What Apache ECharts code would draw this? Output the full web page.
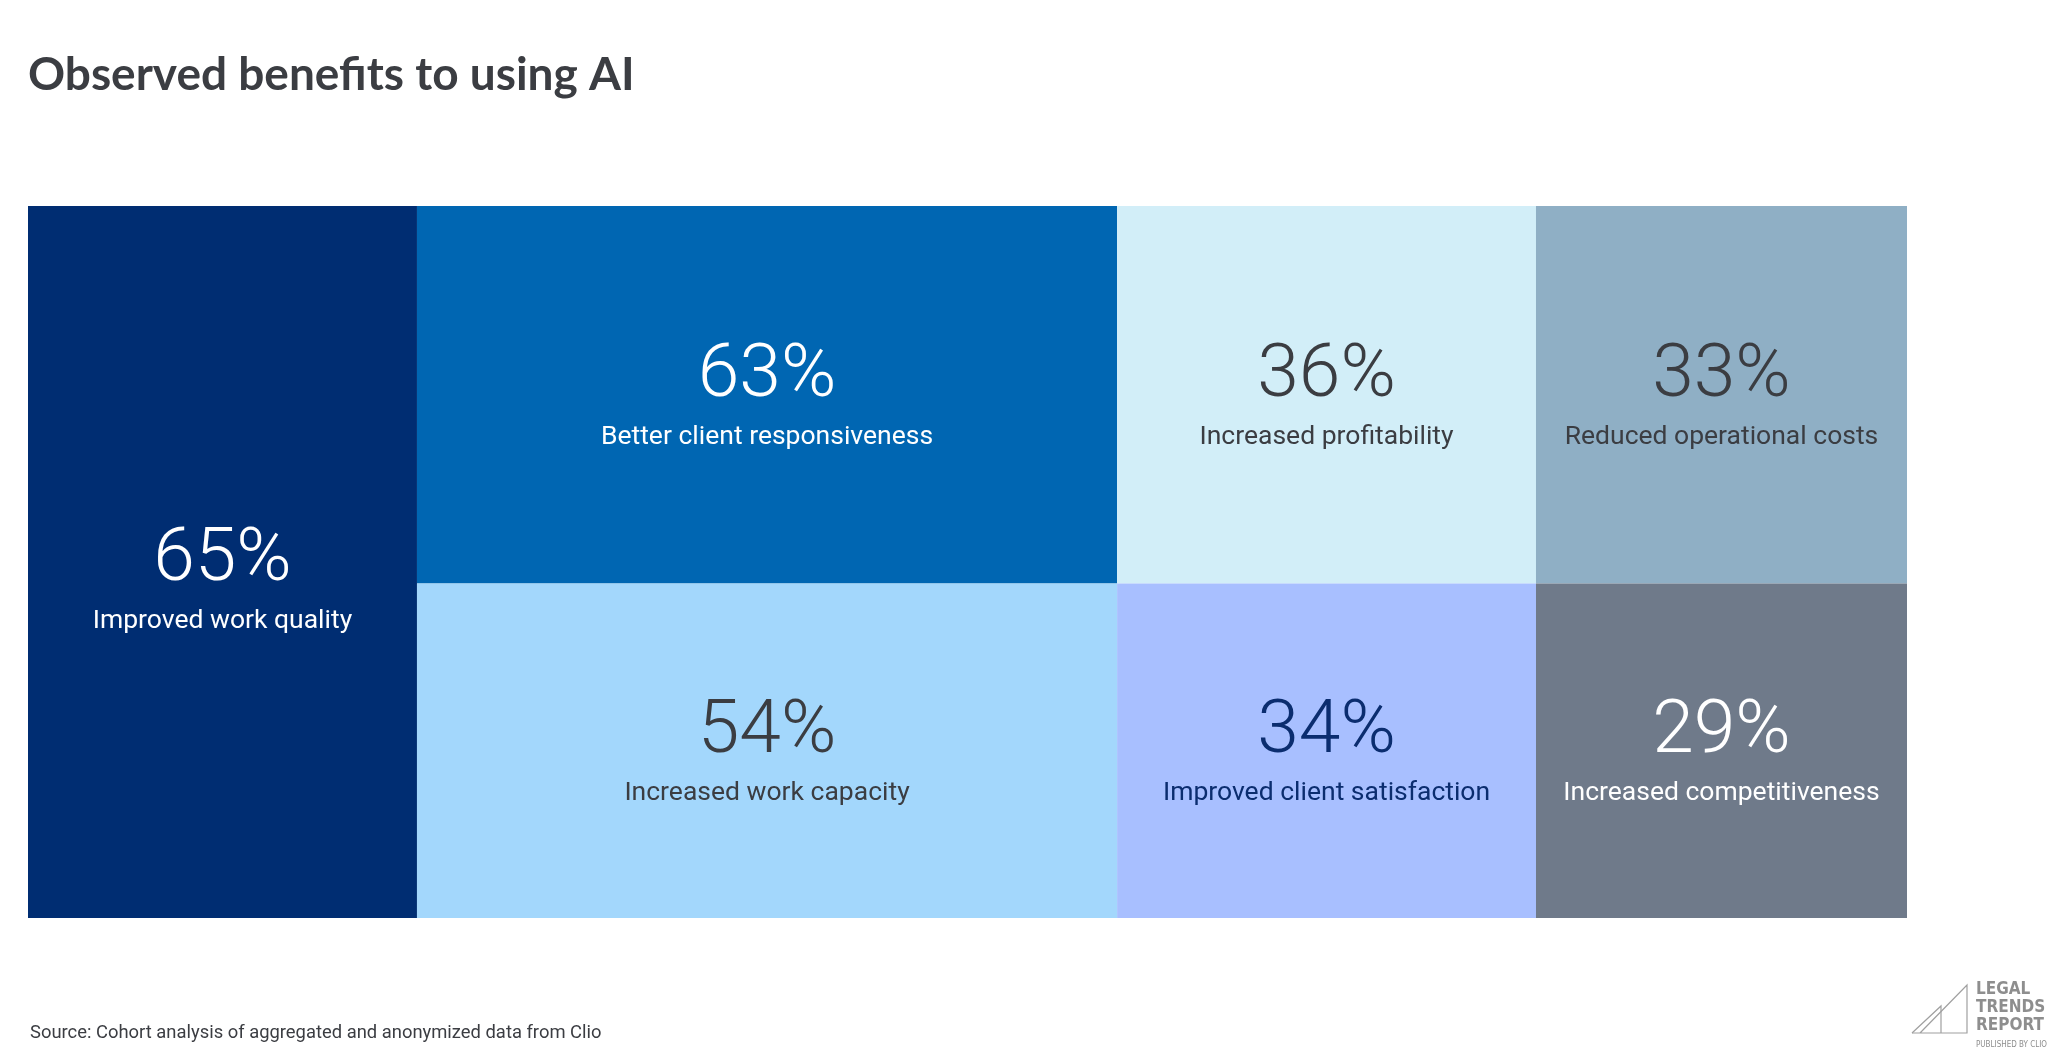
<!DOCTYPE html>
<html>
<head>
<meta charset="utf-8">
<style>
  html, body { margin: 0; padding: 0; background: #ffffff; }
  #chart { width: 2066px; height: 1058px; }
</style>
<script src="https://cdn.jsdelivr.net/npm/echarts@6/dist/echarts.min.js"></script>
</head>
<body>
<div id="chart"></div>
<script>
// ---- Data ----
const categories = [
  'Improved work quality',
  'Better client responsiveness',
  'Increased work capacity',
  'Increased profitability',
  'Improved client satisfaction',
  'Reduced operational costs',
  'Increased competitiveness'
];
const values = [65, 63, 54, 36, 34, 33, 29];
const columnGroup = [0, 1, 1, 2, 2, 3, 3];
const tileRow = ['full', 'top', 'bottom', 'top', 'bottom', 'top', 'bottom'];

const titleText = 'Observed benefits to using AI';
const sourceText = 'Source: Cohort analysis of aggregated and anonymized data from Clio';

// ---- Styles ----
const tileColors = ['#002D72', '#0066B2', '#A3D7FC', '#D2EEF8', '#A8BFFF', '#8FAFC5', '#6F7A8A'];
const textColors = ['#FFFFFF', '#FFFFFF', '#3B3D42', '#3B3D42', '#0B2D6F', '#3B3D42', '#FFFFFF'];

// ---- Layout derived from values ----
const nCols = Math.max(...columnGroup) + 1;
const colSums = new Array(nCols).fill(0);
values.forEach((v, i) => { colSums[columnGroup[i]] += v; });
const colStart = [];
let acc = 0;
colSums.forEach((s, c) => { colStart[c] = acc; acc += s; });
const total = acc;
let topSum = 0, splitSum = 0;
values.forEach((v, i) => {
  if (tileRow[i] !== 'full') { splitSum += v; if (tileRow[i] === 'top') topSum += v; }
});
const splitRatio = topSum / splitSum;

const tiles = values.map((v, i) => {
  const c = columnGroup[i];
  const x0 = colStart[c], x1 = colStart[c] + colSums[c];
  let y0 = 0, y1 = 1;
  if (tileRow[i] === 'top') { y1 = splitRatio; }
  else if (tileRow[i] === 'bottom') { y0 = splitRatio; }
  return { value: [x0, x1, y0, y1, i, v] };
});

const chart = echarts.init(document.getElementById('chart'), null, { renderer: 'canvas' });

const logoGray = '#8E8E8E';
const logoFont = 'DejaVu Sans Condensed';

const option = {
  backgroundColor: '#ffffff',
  animation: false,
  title: [{
    text: titleText,
    left: 23,
    top: 47,
    textStyle: { fontFamily: 'Lato', fontWeight: 700, fontSize: 46, color: '#3B3D42' }
  }, {
    text: sourceText,
    left: 25,
    top: 1019,
    textStyle: { fontFamily: 'Roboto', fontWeight: 400, fontSize: 18.4, color: '#3B3D42' }
  }],
  grid: { left: 28, right: 159, top: 206, bottom: 140, containLabel: false },
  xAxis: { type: 'value', min: 0, max: total, show: false },
  yAxis: { type: 'value', min: 0, max: 1, inverse: true, show: false },
  series: [{
    type: 'custom',
    data: tiles,
    encode: { x: [0, 1], y: [2, 3] },
    renderItem: function (params, api) {
      const i = api.value(4);
      const p0 = api.coord([api.value(0), api.value(2)]);
      const p1 = api.coord([api.value(1), api.value(3)]);
      const x = p0[0], y = p0[1];
      const w = p1[0] - p0[0], h = p1[1] - p0[1];
      const cx = x + w / 2, cy = y + h / 2;
      const full = tileRow[i] === 'full';
      const shift = full ? 16 : 0;
      return {
        type: 'group',
        children: [{
          type: 'rect',
          shape: { x: x, y: y, width: w, height: h },
          style: { fill: tileColors[i] }
        }, {
          type: 'text',
          style: {
            text: api.value(5) + '%',
            x: cx, y: cy - 17 + shift,
            align: 'center', verticalAlign: 'middle',
            fill: textColors[i],
            fontFamily: 'Roboto', fontWeight: 300, fontSize: 75
          }
        }, {
          type: 'text',
          style: {
            text: categories[i],
            x: cx, y: cy + 43 + shift,
            align: 'center', verticalAlign: 'middle',
            fill: textColors[i],
            fontFamily: 'Roboto', fontWeight: 400, fontSize: 26.5
          }
        }]
      };
    }
  }],
  graphic: [{
    type: 'polyline',
    shape: { points: [[1912, 1033], [1941, 1006], [1941, 1033]] },
    style: { stroke: '#A0A0A0', lineWidth: 1.2, fill: null },
    silent: true
  }, {
    type: 'polyline',
    shape: { points: [[1912, 1033], [1967, 1033], [1967, 985], [1920, 1033]] },
    style: { stroke: '#A0A0A0', lineWidth: 1.2, fill: null },
    silent: true
  }, {
    type: 'text', x: 1976, y: 998,
    style: { text: 'LEGAL', fill: logoGray, fontFamily: logoFont, fontWeight: 700, fontSize: 17, verticalAlign: 'bottom' }
  }, {
    type: 'text', x: 1976, y: 1016,
    style: { text: 'TRENDS', fill: logoGray, fontFamily: logoFont, fontWeight: 700, fontSize: 17, verticalAlign: 'bottom' }
  }, {
    type: 'text', x: 1976, y: 1034,
    style: { text: 'REPORT', fill: logoGray, fontFamily: logoFont, fontWeight: 700, fontSize: 17, verticalAlign: 'bottom' }
  }, {
    type: 'text', x: 1976, y: 1049,
    style: { text: 'PUBLISHED BY CLIO', fill: logoGray, fontFamily: logoFont, fontWeight: 400, fontSize: 8, verticalAlign: 'bottom' }
  }]
};

chart.setOption(option);
</script>
</body>
</html>
